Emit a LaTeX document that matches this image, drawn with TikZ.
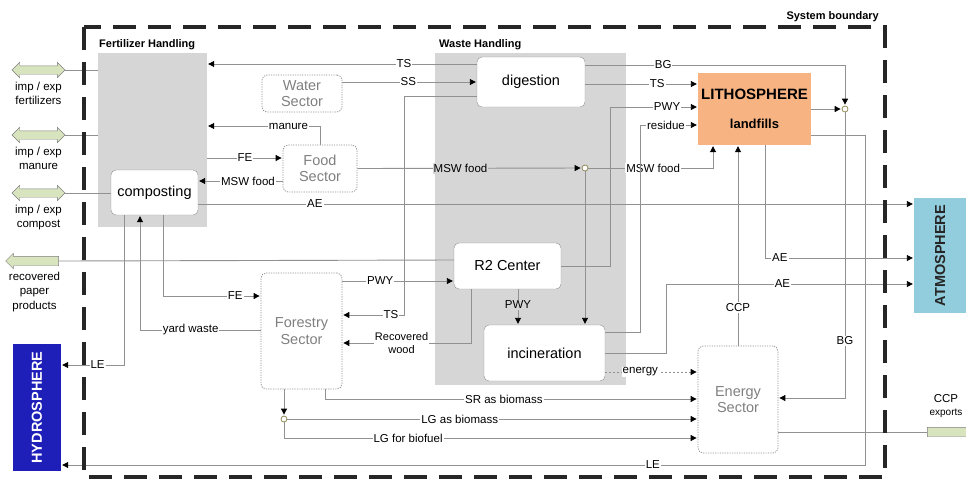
\documentclass[tikz,border=0pt]{standalone}
\usepackage{fontspec}
\setmainfont{Liberation Sans}
\usetikzlibrary{arrows.meta,positioning,shapes.arrows}
\definecolor{boxgray}{RGB}{214,214,214}
\definecolor{linegray}{RGB}{145,145,145}
\definecolor{lithofill}{RGB}{247,180,130}
\definecolor{atmofill}{RGB}{146,205,221}
\definecolor{hydrofill}{RGB}{30,30,185}
\definecolor{flowfill}{RGB}{215,228,189}

\begin{document}
\begin{tikzpicture}[x=1pt, y=-1pt,
  area/.style={rectangle, fill=boxgray, inner sep=0pt},
  head/.style={font=\bfseries\fontsize{11}{13}\selectfont, inner sep=0pt},
  proc/.style={rectangle, draw=linegray, rounded corners=5pt, fill=white,
               inner sep=0pt, font=\fontsize{14.5}{16}\selectfont},
  sector/.style={rectangle, draw=gray!85, line width=0.8pt, dash pattern=on 1.2pt off 1.2pt,
                 rounded corners=5pt, fill=white, text=black!50, align=center,
                 inner sep=0pt, font=\fontsize{14.5}{16.5}\selectfont},
  sphere/.style={rectangle, inner sep=0pt, align=center,
                 font=\bfseries\fontsize{14.5}{16}\selectfont},
  trade/.style={double arrow, draw=gray, fill=flowfill, inner xsep=0pt, inner ysep=4pt,
                minimum width=0pt, double arrow head extend=3.5pt, minimum height=53pt},
  export/.style={single arrow, draw=gray, fill=flowfill, inner xsep=0pt, inner ysep=4.5pt,
                 minimum width=0pt, single arrow head extend=3pt},
  tradelbl/.style={align=center, inner sep=0pt, font=\fontsize{11.5}{13.5}\selectfont},
  conn/.style={draw=linegray, line width=0.9pt},
  arr/.style={conn, -{Triangle[length=6pt, width=6pt, color=black]}, shorten >=1pt},
  lbl/.style={fill=white, inner sep=1pt, font=\fontsize{11.5}{13}\selectfont},
  junc/.style={circle, draw=gray!60!olive, fill=white, inner sep=0pt,
               minimum size=6pt, line width=0.8pt}
]
\useasboundingbox (0,0) rectangle (966,480);

% handling areas
\node[area, minimum width=109pt, minimum height=174pt] (fert) at (152.5,140) {};
\node[area, minimum width=191pt, minimum height=332pt] (waste) at (530.5,219) {};
\node[head, anchor=base west] (fertlbl) at (99,47) {Fertilizer Handling};
\node[head, anchor=base west] (wastelbl) at (439,47) {Waste Handling};

% processes
\node[proc, minimum width=108pt, minimum height=50pt] (dig) at (531,82) {digestion};
\node[proc, minimum width=87pt, minimum height=45pt] (comp) at (154.5,192.5) {composting};
\node[proc, minimum width=107pt, minimum height=46pt] (r2) at (507.5,266) {R2 Center};
\node[proc, minimum width=121pt, minimum height=56pt] (inc) at (544.5,353) {incineration};

% sectors
\node[sector, minimum width=80pt, minimum height=37pt] (water) at (302,93.5) {Water\\Sector};
\node[sector, minimum width=74pt, minimum height=47pt] (food) at (320,168.5) {Food\\Sector};
\node[sector, minimum width=81pt, minimum height=116pt] (forest) at (301.5,331) {Forestry\\Sector};
\node[sector, minimum width=80pt, minimum height=107pt] (energy) at (738,399.5) {Energy\\Sector};

% spheres
\node[sphere, fill=lithofill, minimum width=113pt, minimum height=72pt] (litho) at (754.5,109)
  {\fontsize{15}{17}\selectfont LITHOSPHERE\\[13pt]\fontsize{13}{15}\selectfont landfills};
\node[sphere, fill=atmofill, text=black!85, minimum width=52pt, minimum height=115pt] (atmo) at (940,255.5)
  {\rotatebox{90}{ATMOSPHERE}};
\node[sphere, fill=hydrofill, text=white, minimum width=48pt, minimum height=127pt] (hydro) at (37,407.5)
  {\rotatebox{90}{HYDROSPHERE}};

% imports / exports
\node[trade] (impfert) at (38.5,70) {};
\node[trade] (impman) at (38.5,135) {};
\node[trade] (impcomp) at (38.5,193) {};
\node[export, shape border rotate=180, minimum height=53pt] (paper) at (34.5,261) {};
\node[export, minimum height=70pt] (ccpexp) at (960,432) {};
\node[tradelbl, below=8pt of impfert] (impfertlbl) {imp / exp\\fertilizers};
\node[tradelbl, below=8pt of impman] (impmanlbl) {imp / exp\\manure};
\node[tradelbl, below=8pt of impcomp] (impcomplbl) {imp / exp\\compost};
\node[tradelbl, below=6pt of paper, font=\fontsize{11.5}{14.5}\selectfont] (paperlbl)
  {recovered\\paper\\products};
\node[tradelbl] (ccplbl) at (946,406) {CCP\\\fontsize{10}{12}\selectfont exports};

% junctions
\node[junc] (j1) at (585,168) {};
\node[junc] (j2) at (845,109) {};
\node[junc] (j3) at (284,419) {};

% flows into fertilizer handling
\draw[conn] (impfert.east) -- (fert.west |- impfert.east);
\draw[conn] (impman.east) -- (fert.west |- impman.east);
\draw[conn] (impcomp.east) -- (comp.west |- impcomp.east);
\draw[arr] (dig.west |- 0,64) -- node[lbl, pos=.27] {TS} (fert.east |- 0,64);
\draw[arr] (water.east |- 0,82) -- node[lbl, pos=.49] {SS} (dig.west |- 0,82);
\draw[arr] (dig.west |- 0,96) -| (404,315) -- node[lbl, pos=.21] {TS} (forest.east |- 0,315);
\draw[arr] (food.north) |- node[lbl, pos=.64] {manure} (fert.east |- 0,126);
\draw[arr] (fert.east |- 0,158) -- node[lbl, pos=.5] {FE} (food.west |- 0,158);
\draw[arr] (food.west |- 0,181) -- node[lbl, pos=.41] {MSW food} (comp.east |- 0,181);

% food waste
\draw[arr] (food.east) -- node[lbl, fill=boxgray, pos=.46] {MSW food} (j1);
\draw[arr] (j1) -| node[lbl, pos=.26] {MSW food} (litho.south -| 713,0);
\draw[arr] (j1) -- (inc.north -| j1);

% to the atmosphere
\draw[arr] (comp.east |- 0,204) -- node[lbl, pos=.163] {AE} (atmo.west |- 0,204);
\draw[arr] (litho.south -| 765,0) |- node[lbl, pos=.55] {AE} (atmo.west |- 0,258);
\draw[arr] (inc.east |- 0,353) -| (666,284) -- node[lbl, pos=.47] {AE} (atmo.west |- 0,284);

% to the lithosphere
\draw[arr] (dig.east |- 0,65) -| node[lbl, pos=.15] {BG} (j2);
\draw[arr] (litho.east) -- (j2);
\draw[arr] (j2) |- node[lbl, pos=.4] {BG} (energy.east |- 0,398);
\draw[arr] (dig.east |- 0,84) -- node[lbl, pos=.64] {TS} (litho.west |- 0,84);
\draw[arr] (r2.east) -| (610,107) -- node[lbl, pos=.65] {PWY} (litho.west |- 0,107);
\draw[arr] (inc.east |- 0,332) -| (640,125) -- node[lbl, pos=.45] {residue} (litho.west |- 0,125);
\draw[arr] (energy.north) -- node[lbl, pos=.19] {CCP} (litho.south -| energy.north);

% to the hydrosphere
\draw[arr] (litho.east |- 0,135) -| (865,465) -- node[lbl, pos=.264] {LE} (hydro.east |- 0,465);
\draw[arr] (comp.south -| 124,0) |- node[lbl, pos=.71] {LE} (hydro.east |- 0,365);

% forestry
\draw[arr] (forest.west |- 0,330) -| node[lbl, pos=.29] {yard waste} (comp.south -| 140,0);
\draw[arr] (comp.south -| 163,0) |- node[lbl, pos=.87] {FE} (forest.west |- 0,296);
\draw[arr] (forest.east |- 0,281) -- node[lbl, pos=.34] {PWY} (r2.west |- 0,281);
\draw[arr] (r2.south -| 471,0) |- node[lbl, align=center, pos=.77,
  font=\fontsize{11}{13}\selectfont] {Recovered\\wood} (forest.east |- 0,343);
\draw[arr] (r2.south -| 518,0) -- node[lbl, fill=boxgray, pos=.44] {PWY} (inc.north -| 518,0);
\draw[conn] (r2.west |- 0,260) -- (paper.east);

% energy sector
\draw[arr, dash pattern=on 2pt off 2pt] (inc.east |- 0,372) -- node[lbl, pos=.38] {energy} (energy.west |- 0,372);
\draw[arr] (forest.south -| 325,0) |- node[lbl, pos=.74] {SR as biomass} (energy.west |- 0,399);
\draw[arr] (forest.south -| j3) -- (j3);
\draw[arr] (j3) -- node[lbl, pos=.42] {LG as biomass} (energy.west |- j3);
\draw[arr] (j3) |- node[lbl, pos=.65] {LG for biofuel} (energy.west |- 0,438);
\draw[conn] (energy.east |- 0,432) -- (ccpexp.west);

% system boundary
\draw[line width=4pt, draw=black!85, dash pattern=on 23pt off 12pt] (84,27) rectangle (885,477);
\node[head, anchor=base east] (sysb) at (879,19) {System boundary};
\end{tikzpicture}
\end{document}
